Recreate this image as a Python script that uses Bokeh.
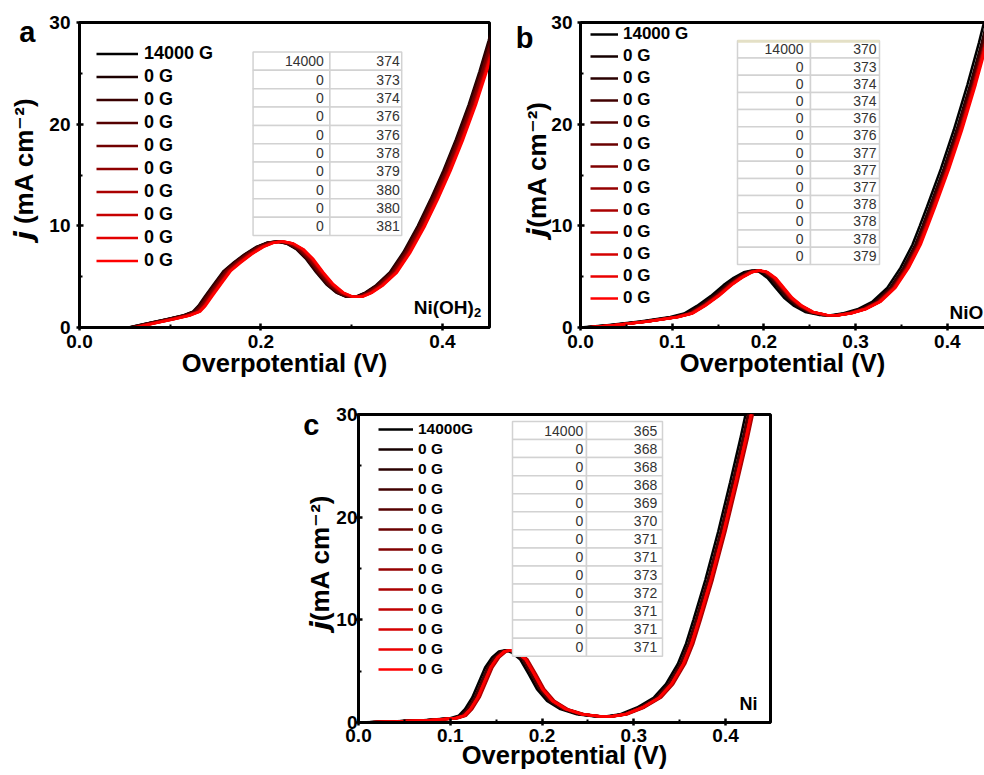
from bokeh.plotting import figure
from bokeh.models import (ColumnDataSource, FixedTicker, PrintfTickFormatter, Legend,
                          LegendItem, Label, LinearAxis, Range1d, Spacer)
from bokeh.layouts import column, row
from bokeh.embed import file_html
from bokeh.resources import INLINE
from bokeh.core.properties import value

FONT = "Liberation Sans"

# ---------------- data ----------------
# Ni(OH)2: LSV of the first (14000 G) run, overpotential (V) vs j (mA cm-2)
nioh_x = [0.055, 0.075, 0.097, 0.116, 0.126, 0.132, 0.139, 0.149, 0.160, 0.171, 0.183,
          0.196, 0.207, 0.218, 0.229, 0.240, 0.251, 0.262, 0.273, 0.284, 0.295, 0.305,
          0.316, 0.328, 0.343, 0.358, 0.374, 0.388, 0.402, 0.416, 0.430, 0.442, 0.452, 0.460]
nioh_j = [0.0, 0.39, 0.82, 1.21, 1.57, 2.13, 3.02, 4.26, 5.57, 6.39, 7.21,
          7.93, 8.33, 8.46, 8.26, 7.70, 6.72, 5.41, 4.26, 3.44, 3.02, 3.02,
          3.44, 4.16, 5.41, 7.40, 10.0, 12.6, 15.4, 18.5, 21.9, 25.2, 28.2, 30.8]
nioh_field = [14000, 0, 0, 0, 0, 0, 0, 0, 0, 0]
nioh_eta10 = [374, 373, 374, 376, 376, 378, 379, 380, 380, 381]
nioh_legend = ["14000 G"] + ["0 G"] * 9

# NiO
nio_x = [0.0, 0.029, 0.065, 0.098, 0.113, 0.127, 0.142, 0.156, 0.167, 0.178, 0.187,
         0.195, 0.204, 0.213, 0.222, 0.233, 0.245, 0.260, 0.273, 0.287, 0.302, 0.318,
         0.3345, 0.349, 0.362, 0.370, 0.378, 0.393, 0.407, 0.422, 0.4345, 0.440, 0.450]
nio_j = [0.0, 0.23, 0.59, 1.04, 1.37, 2.12, 3.09, 4.17, 4.88, 5.43, 5.60,
         5.47, 4.88, 3.90, 2.93, 2.12, 1.53, 1.24, 1.20, 1.40, 1.79, 2.51,
         3.90, 5.86, 8.14, 10.0, 11.9, 15.6, 19.4, 23.9, 28.0, 30.0, 33.5]
nio_field = [14000, 0, 0, 0, 0, 0, 0, 0, 0, 0, 0, 0, 0]
nio_eta10 = [370, 373, 374, 374, 376, 376, 377, 377, 377, 378, 378, 378, 379]
nio_legend = ["14000 G"] + ["0 G"] * 12

# Ni
ni_x = [0.0, 0.0345, 0.071, 0.100, 0.109, 0.116, 0.124, 0.131, 0.138, 0.1455, 0.153,
        0.160, 0.167, 0.176, 0.1855, 0.1945, 0.2055, 0.220, 0.238, 0.256, 0.269, 0.2855,
        0.3036, 0.322, 0.335, 0.348, 0.357, 0.365, 0.378, 0.392, 0.405, 0.416, 0.423, 0.432]
ni_j = [0.0, 0.10, 0.23, 0.42, 0.65, 1.30, 2.44, 3.90, 5.36, 6.34, 6.92,
        7.05, 6.82, 6.17, 4.71, 3.25, 2.11, 1.30, 0.81, 0.62, 0.58, 0.81,
        1.46, 2.44, 3.74, 5.70, 7.70, 10.0, 13.9, 18.6, 23.4, 27.6, 30.5, 34.0]
ni_field = [14000, 0, 0, 0, 0, 0, 0, 0, 0, 0, 0, 0, 0]
ni_eta10 = [365, 368, 368, 368, 369, 370, 371, 371, 373, 372, 371, 371, 371]
ni_legend = ["14000G"] + ["0 G"] * 12

y_ticks = [0, 10, 20, 30]
y_minor = [5, 15, 25]

NB = "\u00a0"


def make_panel(x_base, j_base, fields, eta10, legend_labels, geo):
    # page position of the canvas and of the plot frame
    ox, oy = geo["origin"]
    fl = ox + geo["left"]
    ft = oy + geo["top"]
    fw = geo["width"] - geo["left"] - geo["right"]
    fh = geo["height"] - geo["top"] - geo["bottom"]
    fb = ft + fh
    xmax = geo["xmax"]

    def X(px):
        return (px - fl) / fw * xmax

    def Y(py):
        return (fb - py) / fh * 30.0

    p = figure(width=geo["width"], height=geo["height"],
               x_range=Range1d(0, xmax), y_range=Range1d(0, 30),
               output_backend="svg", toolbar_location=None,
               min_border_left=geo["left"], min_border_right=geo["right"],
               min_border_top=geo["top"], min_border_bottom=geo["bottom"])
    p.grid.visible = False
    p.background_fill_color = "white"
    p.border_fill_color = "white"

    xa, ya = p.below[0], p.left[0]
    xa.ticker = FixedTicker(ticks=geo["xticks"], minor_ticks=geo["xminor"])
    xa.formatter = PrintfTickFormatter(format="%.1f")
    ya.ticker = FixedTicker(ticks=y_ticks, minor_ticks=y_minor)
    ya.formatter = PrintfTickFormatter(format="%d")
    for ax in (xa, ya):
        ax.axis_line_width = 3
        ax.axis_line_color = "black"
        ax.major_tick_line_width = 2.5
        ax.minor_tick_line_width = 2
        ax.major_tick_in = 4
        ax.major_tick_out = 3
        ax.minor_tick_in = 3
        ax.minor_tick_out = 0
        ax.major_label_text_font = FONT
        ax.major_label_text_font_style = "bold"
        ax.major_label_text_font_size = "19px"
        ax.major_label_text_color = "black"
        ax.axis_label_text_font = FONT
        ax.axis_label_text_font_style = "bold"
        ax.axis_label_text_color = "black"
    xa.major_label_standoff = geo["xstand"]
    ya.major_label_standoff = geo["ystand"]
    xa.axis_label = "Overpotential (V)"
    xa.axis_label_text_font_size = "25.5px"
    xa.axis_label_standoff = geo["lstand"]
    ya.axis_label = geo["ytitle"]
    ya.axis_label_text_font_size = "26px"
    ya.axis_label_standoff = geo["ylstand"]

    if geo.get("open_right"):
        # frame runs off the right edge: draw only the top edge of the box
        p.outline_line_color = None
        top = LinearAxis(ticker=FixedTicker(ticks=[]), axis_line_width=3,
                         axis_line_color="black", major_tick_line_color=None,
                         minor_tick_line_color=None, major_tick_out=0, major_tick_in=0,
                         major_label_text_font_size="1px", major_label_standoff=0)
        p.add_layout(top, "above")
    else:
        p.outline_line_color = "black"
        p.outline_line_width = 3

    # panel letter, carried by a bare outer axis on the left
    lyv, lstand, letter = geo["letter"]
    lax = LinearAxis(ticker=FixedTicker(ticks=[lyv]), major_label_overrides={lyv: letter},
                     axis_line_color=None, major_tick_line_color=None,
                     minor_tick_line_color=None, major_tick_out=0, major_tick_in=0,
                     major_label_standoff=lstand, major_label_text_font=FONT,
                     major_label_text_font_style="bold", major_label_text_font_size="29px",
                     major_label_text_color="black")
    p.add_layout(lax, "left")

    # repeated LSV scans: black (first) to red (last), each crossing 10 mA cm-2 at its eta10
    n = len(eta10)
    colors = ["#%02x0000" % round(255 * i / (n - 1)) for i in range(n)]
    rends = []
    for i in range(n):
        shift = (eta10[i] - eta10[0]) / 1000.0
        src = ColumnDataSource(dict(x=[v + shift for v in x_base], j=j_base))
        rends.append(p.line("x", "j", source=src, line_color=colors[i], line_width=2.5))

    # legend
    lg = geo["legend"]
    rh = lg["row"]
    items = [LegendItem(label=lab, renderers=[r]) for lab, r in zip(legend_labels, rends)]
    legend = Legend(items=items, location=(lg["vx"], int(round(fh - lg["top"] - rh * n))),
                    glyph_width=lg["gw"], glyph_height=rh, label_height=rh,
                    label_standoff=lg["stand"], spacing=0, padding=0, margin=0,
                    border_line_color=None, background_fill_alpha=0,
                    label_text_font=FONT, label_text_font_style="bold",
                    label_text_font_size=lg["font"], label_text_color="black")
    p.add_layout(legend)

    # inset table of field (G) and eta10 (mV)
    tl, tdiv, tr, ttop, tbot = geo["table"]
    th = (tbot - ttop) / n
    tops = [Y(ttop + i * th) for i in range(n)]
    bots = [Y(ttop + (i + 1) * th) for i in range(n)]
    mids = [Y(ttop + (i + 0.5) * th) for i in range(n)]
    tsrc = ColumnDataSource(dict(top=tops, bottom=bots, mid=mids,
                                 field=[str(f) for f in fields],
                                 eta=[str(e) for e in eta10]))
    p.quad(left=X(tl), right=X(tdiv), top="top", bottom="bottom", source=tsrc,
           fill_color="white", line_color="#d2d2d2", line_width=1.5)
    p.quad(left=X(tdiv), right=X(tr), top="top", bottom="bottom", source=tsrc,
           fill_color="white", line_color="#d2d2d2", line_width=1.5)
    if geo.get("table_head"):
        p.quad(left=[X(tl)], right=[X(tr)], top=[Y(ttop - 1)], bottom=[Y(ttop + 2)],
               fill_color="#e4e0c6", line_color=None)
    p.text(x=X(geo["tcol"][0]), y="mid", text="field", source=tsrc,
           text_align="right", text_baseline="middle", text_font=value(FONT),
           text_font_size="14px", text_color="#333333")
    p.text(x=X(geo["tcol"][1]), y="mid", text="eta", source=tsrc,
           text_align="right", text_baseline="middle", text_font=value(FONT),
           text_font_size="14px", text_color="#333333")

    # sample name inside the frame
    for (sx, sy, txt, size) in geo["sample"]:
        p.add_layout(Label(x=X(sx), y=Y(sy), text=txt, text_align="left",
                           text_baseline="alphabetic", text_font=FONT,
                           text_font_style="bold", text_font_size=size,
                           text_color="black"))
    return p


geo_a = dict(origin=(0, 0), width=500, height=390, left=78, right=11, top=22, bottom=63,
             xmax=0.452, xticks=[0.0, 0.2, 0.4], xminor=[0.1, 0.3],
             xstand=4, ystand=6, lstand=-2, ylstand=7,
             ytitle=NB + "\U0001D65F (mA cm\u207b\u00b2)",
             legend=dict(vx=17, top=20, row=23, gw=42, stand=6, font="18px"),
             table=(252, 329, 401, 51.5, 235), tcol=(323, 399),
             letter=(29.1, -29, NB * 2 + "a"),
             sample=[(413, 307, "Ni(OH)", "19px"), (473.5, 312, "2", "13px")])

geo_b = dict(origin=(500, 0), width=484, height=390, left=80, right=0, top=19, bottom=63,
             xmax=0.4406, xticks=[0.0, 0.1, 0.2, 0.3, 0.4],
             xminor=[0.05, 0.15, 0.25, 0.35], xstand=4, ystand=5, lstand=-2, ylstand=-4,
             ytitle=NB + "\U0001D65F(mA cm\u207b\u00b2)", open_right=True,
             legend=dict(vx=10, top=4.5, row=22, gw=28, stand=5, font="17px"),
             table=(737, 810, 879, 37.5, 263.3), tcol=(803, 876), table_head=True,
             letter=(28.5, -14, "b"),
             sample=[(949, 312, "NiO", "19px")])

geo_c = dict(origin=(280, 390), width=504, height=385, left=78, right=14, top=24, bottom=53,
             xmax=0.449, xticks=[0.0, 0.1, 0.2, 0.3, 0.4],
             xminor=[0.05, 0.15, 0.25, 0.35], xstand=3, ystand=-2, lstand=-4, ylstand=-2,
             ytitle=NB + "\U0001D65F(mA cm\u207b\u00b2)",
             legend=dict(vx=20, top=5, row=20, gw=35, stand=5, font="15.5px"),
             table=(512, 586, 662, 421, 655.7), tcol=(582.7, 656.7),
             letter=(29.0, -17, NB + "c"),
             sample=[(739, 703, "Ni", "18px")])

pa = make_panel(nioh_x, nioh_j, nioh_field, nioh_eta10, nioh_legend, geo_a)
pb = make_panel(nio_x, nio_j, nio_field, nio_eta10, nio_legend, geo_b)
pc = make_panel(ni_x, ni_j, ni_field, ni_eta10, ni_legend, geo_c)

page = column(row(pa, pb), row(Spacer(width=280, height=385), pc))

with open("out.html", "w") as f:
    f.write(file_html(page, INLINE))
